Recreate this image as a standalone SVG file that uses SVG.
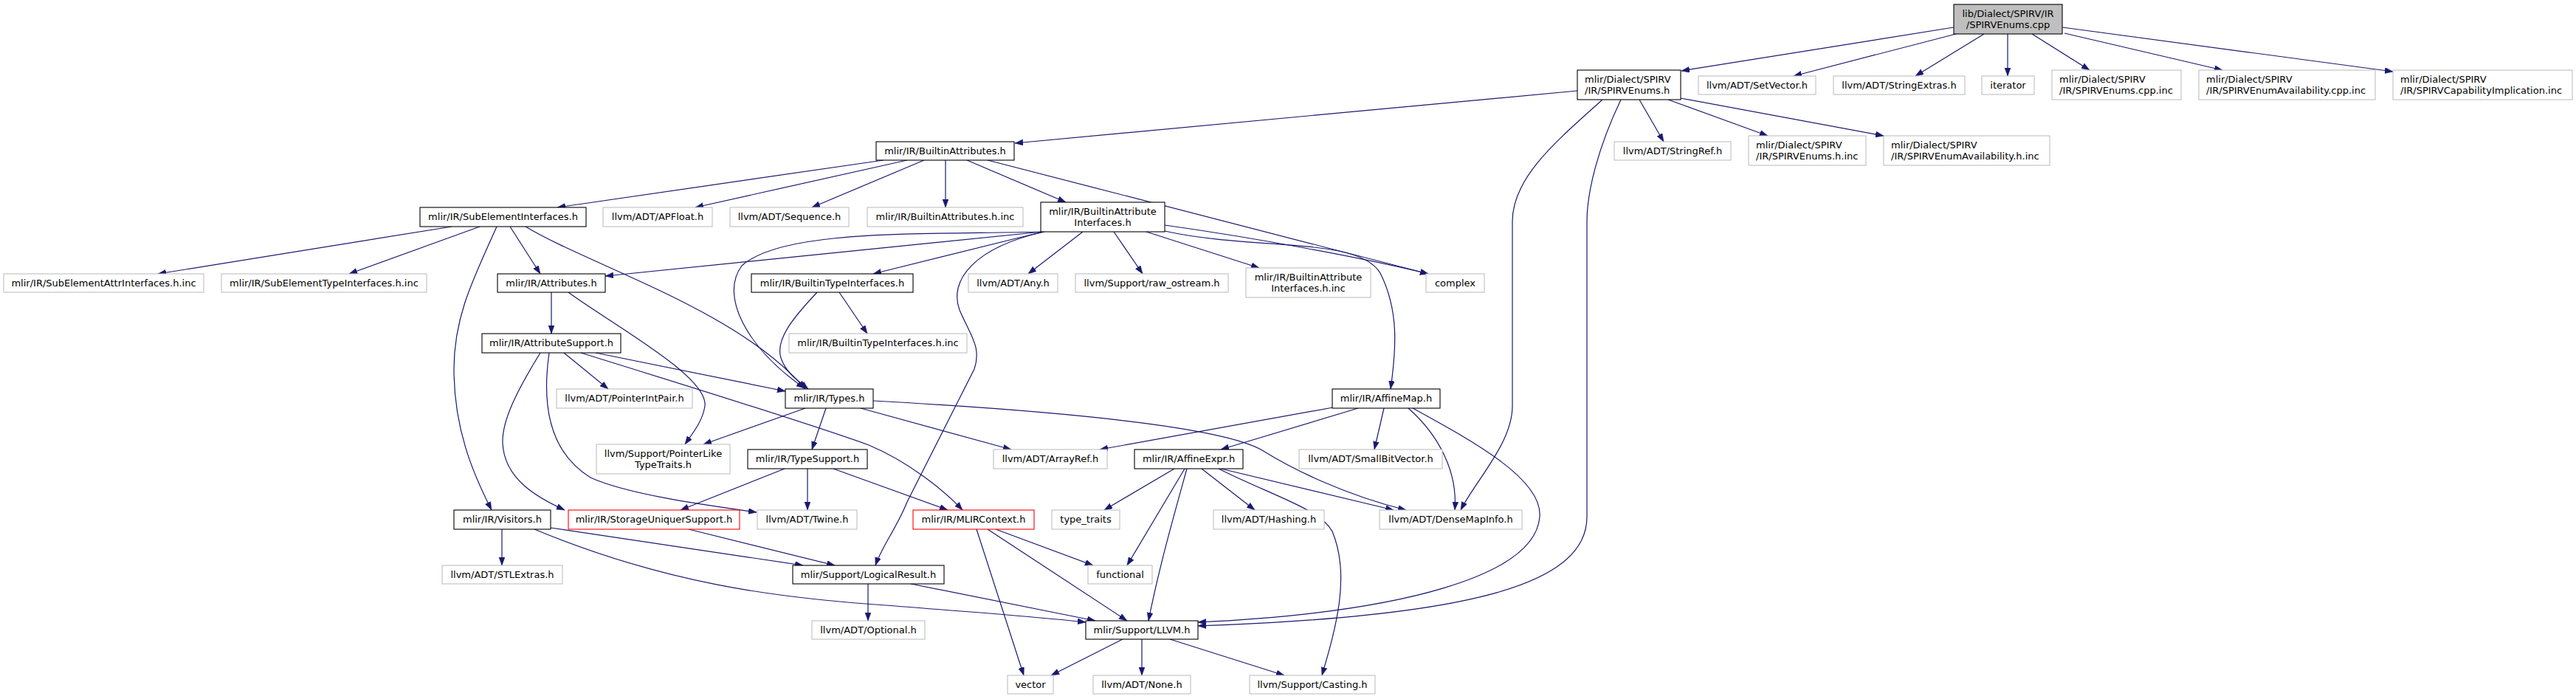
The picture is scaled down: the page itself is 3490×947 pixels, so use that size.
<svg xmlns="http://www.w3.org/2000/svg" width="3490" height="947" viewBox="0 0 3490 947">
<style>
text{font-family:"DejaVu Sans","Liberation Sans",sans-serif;font-size:13px;fill:#000}
.c{text-anchor:middle}
rect{stroke-width:1.1}
.doc rect{fill:#fff;stroke:#000}
.ext rect{fill:#fff;stroke:#bfbfbf}
.red rect{fill:#fff;stroke:#ff0000}
.root rect{fill:#bfbfbf;stroke:#000}
#edges path{fill:none;stroke:#191970;stroke-width:1.2;marker-end:url(#a)}
</style>
<defs>
<marker id="a" markerWidth="12" markerHeight="9" refX="11" refY="4" orient="auto" markerUnits="userSpaceOnUse"><path d="M0,0 L11,4 L0,8 z" fill="#191970" stroke="#191970" stroke-width="0.5"/></marker>
</defs>
<rect width="3490" height="947" fill="#fff"/>
<g id="edges">
<path d="M2647,37 L2278,96"/>
<path d="M2650,46 L2430,103"/>
<path d="M2688,46 L2595,103"/>
<path d="M2720,46 L2720,103"/>
<path d="M2753,46 L2831,95"/>
<path d="M2797,45 L3011,95"/>
<path d="M2794,37 L3242,97"/>
<path d="M2137,123 L1375,194"/>
<path d="M2221,135 L2254,192"/>
<path d="M2260,135 L2395,184"/>
<path d="M2277,133 L2552,184"/>
<path d="M2171,135 C2110,190 2049,240 2049,300 L2049,550 C2049,600 2000,650 1979,691"/>
<path d="M2196,135 C2165,200 2150,260 2150,300 L2150,700 C2150,790 2000,835 1623,848"/>
<path d="M1197,217 L755,281"/>
<path d="M1229,217 L942,281"/>
<path d="M1252,217 L1100,281"/>
<path d="M1281,217 L1281,281"/>
<path d="M1310,217 L1444,274"/>
<path d="M1338,217 L1935,371"/>
<path d="M612,307 L214,371"/>
<path d="M650,307 L473,371"/>
<path d="M673,307 C640,380 615,430 615,500 C615,580 640,640 666,691"/>
<path d="M691,307 L732,371"/>
<path d="M712,307 C800,360 1000,420 1091,527"/>
<path d="M747,396 L747,452"/>
<path d="M770,396 C830,440 960,510 955,550 C952,570 940,585 928,602"/>
<path d="M1412,314 L820,374"/>
<path d="M1413,314 C1250,318 1060,310 1005,360 C975,400 1010,470 1090,526"/>
<path d="M1413,314 L1183,371"/>
<path d="M1467,314 L1393,371"/>
<path d="M1509,314 L1548,371"/>
<path d="M1553,314 L1706,363"/>
<path d="M1578,305 C1700,322 1850,350 1935,371"/>
<path d="M1578,313 C1700,340 1840,320 1870,370 C1895,420 1892,470 1884,527"/>
<path d="M1415,314 C1320,335 1285,380 1300,420 C1315,455 1330,470 1320,500 L1229,680 C1215,715 1195,740 1186,766"/>
<path d="M1137,396 L1175,452"/>
<path d="M1107,396 C1075,430 1050,460 1058,485 C1065,505 1080,515 1095,527"/>
<path d="M807,478 L1064,530"/>
<path d="M764,478 L824,527"/>
<path d="M732,478 C700,530 680,570 681,600 C683,650 730,675 765,691"/>
<path d="M744,478 C735,540 740,610 800,647 C850,670 960,685 1025,694"/>
<path d="M787,478 C900,513 1100,575 1177,603 C1230,625 1280,665 1304,691"/>
<path d="M1091,553 L953,602"/>
<path d="M1119,553 L1100,609"/>
<path d="M1166,553 L1370,609"/>
<path d="M1183,543 C1400,555 1650,575 1710,610 C1750,635 1820,670 1905,691"/>
<path d="M1063,635 L922,691"/>
<path d="M1094,635 L1094,691"/>
<path d="M1129,635 L1284,691"/>
<path d="M1806,552 L1490,609"/>
<path d="M1840,553 L1654,609"/>
<path d="M1875,553 L1862,609"/>
<path d="M1908,553 C1950,590 1975,640 1971,691"/>
<path d="M1914,553 C2000,600 2090,650 2086,700 C2080,780 1900,830 1623,843"/>
<path d="M1591,635 L1496,691"/>
<path d="M1605,635 L1527,766"/>
<path d="M1608,635 C1590,700 1570,770 1556,841"/>
<path d="M1628,635 L1700,691"/>
<path d="M1654,635 L1888,691"/>
<path d="M1651,635 C1720,670 1790,690 1805,720 C1830,780 1810,850 1791,915"/>
<path d="M680,717 L680,766"/>
<path d="M746,715 L1088,766"/>
<path d="M724,717 C900,790 1050,810 1200,820 C1300,828 1400,835 1471,843"/>
<path d="M933,717 L1131,766"/>
<path d="M1338,717 L1527,841"/>
<path d="M1349,717 L1481,766"/>
<path d="M1323,717 L1387,915"/>
<path d="M1176,791 L1176,841"/>
<path d="M1234,791 L1484,841"/>
<path d="M1521,866 L1424,915"/>
<path d="M1547,866 L1547,915"/>
<path d="M1585,866 L1740,915"/>
</g>
<g id="n0" class="root"><rect x="2647" y="6" width="147" height="40"/><text class="c" x="2720.5" y="23">lib/Dialect/SPIRV/IR</text><text class="c" x="2720.5" y="38">/SPIRVEnums.cpp</text></g>
<g id="n1" class="doc"><rect x="2137" y="95" width="140" height="40"/><text x="2147" y="112">mlir/Dialect/SPIRV</text><text x="2147" y="127">/IR/SPIRVEnums.h</text></g>
<g id="n2" class="ext"><rect x="2301" y="103" width="159" height="25"/><text class="c" x="2380.5" y="120">llvm/ADT/SetVector.h</text></g>
<g id="n3" class="ext"><rect x="2484" y="103" width="178" height="25"/><text class="c" x="2573" y="120">llvm/ADT/StringExtras.h</text></g>
<g id="n4" class="ext"><rect x="2685" y="103" width="71" height="25"/><text class="c" x="2720.5" y="120">iterator</text></g>
<g id="n5" class="ext"><rect x="2780" y="95" width="175" height="40"/><text x="2790" y="112">mlir/Dialect/SPIRV</text><text x="2790" y="127">/IR/SPIRVEnums.cpp.inc</text></g>
<g id="n6" class="ext"><rect x="2979" y="95" width="239" height="40"/><text x="2989" y="112">mlir/Dialect/SPIRV</text><text x="2989" y="127">/IR/SPIRVEnumAvailability.cpp.inc</text></g>
<g id="n7" class="ext"><rect x="3242" y="95" width="243" height="40"/><text x="3252" y="112">mlir/Dialect/SPIRV</text><text x="3252" y="127">/IR/SPIRVCapabilityImplication.inc</text></g>
<g id="n8" class="doc"><rect x="1187" y="192" width="187" height="25"/><text class="c" x="1280.5" y="209">mlir/IR/BuiltinAttributes.h</text></g>
<g id="n9" class="ext"><rect x="2187" y="192" width="158" height="25"/><text class="c" x="2266" y="209">llvm/ADT/StringRef.h</text></g>
<g id="n10" class="ext"><rect x="2369" y="184" width="159" height="40"/><text x="2379" y="201">mlir/Dialect/SPIRV</text><text x="2379" y="216">/IR/SPIRVEnums.h.inc</text></g>
<g id="n11" class="ext"><rect x="2552" y="184" width="225" height="40"/><text x="2562" y="201">mlir/Dialect/SPIRV</text><text x="2562" y="216">/IR/SPIRVEnumAvailability.h.inc</text></g>
<g id="n12" class="doc"><rect x="569" y="281" width="225" height="26"/><text class="c" x="681.5" y="298">mlir/IR/SubElementInterfaces.h</text></g>
<g id="n13" class="ext"><rect x="817" y="281" width="148" height="26"/><text class="c" x="891" y="298">llvm/ADT/APFloat.h</text></g>
<g id="n14" class="ext"><rect x="989" y="281" width="161" height="26"/><text class="c" x="1069.5" y="298">llvm/ADT/Sequence.h</text></g>
<g id="n15" class="ext"><rect x="1175" y="281" width="211" height="26"/><text class="c" x="1280.5" y="298">mlir/IR/BuiltinAttributes.h.inc</text></g>
<g id="n16" class="doc"><rect x="1410" y="274" width="168" height="40"/><text class="c" x="1494" y="291">mlir/IR/BuiltinAttribute</text><text class="c" x="1494" y="306">Interfaces.h</text></g>
<g id="n17" class="ext"><rect x="5" y="371" width="271" height="25"/><text class="c" x="140.5" y="388">mlir/IR/SubElementAttrInterfaces.h.inc</text></g>
<g id="n18" class="ext"><rect x="300" y="371" width="278" height="25"/><text class="c" x="439" y="388">mlir/IR/SubElementTypeInterfaces.h.inc</text></g>
<g id="n19" class="doc"><rect x="674" y="371" width="146" height="25"/><text class="c" x="747" y="388">mlir/IR/Attributes.h</text></g>
<g id="n20" class="doc"><rect x="1018" y="371" width="219" height="25"/><text class="c" x="1127.5" y="388">mlir/IR/BuiltinTypeInterfaces.h</text></g>
<g id="n21" class="ext"><rect x="1312" y="371" width="121" height="25"/><text class="c" x="1372.5" y="388">llvm/ADT/Any.h</text></g>
<g id="n22" class="ext"><rect x="1457" y="371" width="207" height="25"/><text class="c" x="1560.5" y="388">llvm/Support/raw_ostream.h</text></g>
<g id="n23" class="ext"><rect x="1688" y="363" width="169" height="40"/><text class="c" x="1772.5" y="380">mlir/IR/BuiltinAttribute</text><text class="c" x="1772.5" y="395">Interfaces.h.inc</text></g>
<g id="n24" class="ext"><rect x="1932" y="371" width="79" height="25"/><text class="c" x="1971.5" y="388">complex</text></g>
<g id="n25" class="doc"><rect x="653" y="452" width="188" height="26"/><text class="c" x="747" y="469">mlir/IR/AttributeSupport.h</text></g>
<g id="n26" class="ext"><rect x="1069" y="452" width="241" height="26"/><text class="c" x="1189.5" y="469">mlir/IR/BuiltinTypeInterfaces.h.inc</text></g>
<g id="n27" class="ext"><rect x="754" y="527" width="184" height="26"/><text class="c" x="846" y="544">llvm/ADT/PointerIntPair.h</text></g>
<g id="n28" class="doc"><rect x="1064" y="527" width="119" height="26"/><text class="c" x="1123.5" y="544">mlir/IR/Types.h</text></g>
<g id="n29" class="doc"><rect x="1805" y="527" width="146" height="26"/><text class="c" x="1878" y="544">mlir/IR/AffineMap.h</text></g>
<g id="n30" class="ext"><rect x="808" y="602" width="181" height="40"/><text class="c" x="898.5" y="619">llvm/Support/PointerLike</text><text class="c" x="898.5" y="634">TypeTraits.h</text></g>
<g id="n31" class="doc"><rect x="1013" y="609" width="162" height="26"/><text class="c" x="1094" y="626">mlir/IR/TypeSupport.h</text></g>
<g id="n32" class="ext"><rect x="1346" y="609" width="154" height="26"/><text class="c" x="1423" y="626">llvm/ADT/ArrayRef.h</text></g>
<g id="n33" class="doc"><rect x="1537" y="609" width="147" height="26"/><text class="c" x="1610.5" y="626">mlir/IR/AffineExpr.h</text></g>
<g id="n34" class="ext"><rect x="1760" y="609" width="194" height="26"/><text class="c" x="1857" y="626">llvm/ADT/SmallBitVector.h</text></g>
<g id="n35" class="doc"><rect x="615" y="691" width="131" height="26"/><text class="c" x="680.5" y="708">mlir/IR/Visitors.h</text></g>
<g id="n36" class="red"><rect x="770" y="691" width="232" height="26"/><text class="c" x="886" y="708">mlir/IR/StorageUniquerSupport.h</text></g>
<g id="n37" class="ext"><rect x="1026" y="691" width="135" height="26"/><text class="c" x="1093.5" y="708">llvm/ADT/Twine.h</text></g>
<g id="n38" class="red"><rect x="1237" y="691" width="164" height="26"/><text class="c" x="1319" y="708">mlir/IR/MLIRContext.h</text></g>
<g id="n39" class="ext"><rect x="1425" y="691" width="92" height="26"/><text class="c" x="1471" y="708">type_traits</text></g>
<g id="n40" class="ext"><rect x="1644" y="691" width="150" height="26"/><text class="c" x="1719" y="708">llvm/ADT/Hashing.h</text></g>
<g id="n41" class="ext"><rect x="1869" y="691" width="193" height="26"/><text class="c" x="1965.5" y="708">llvm/ADT/DenseMapInfo.h</text></g>
<g id="n42" class="ext"><rect x="599" y="766" width="163" height="25"/><text class="c" x="680.5" y="783">llvm/ADT/STLExtras.h</text></g>
<g id="n43" class="doc"><rect x="1074" y="766" width="205" height="25"/><text class="c" x="1176.5" y="783">mlir/Support/LogicalResult.h</text></g>
<g id="n44" class="ext"><rect x="1474" y="766" width="87" height="25"/><text class="c" x="1517.5" y="783">functional</text></g>
<g id="n45" class="ext"><rect x="1100" y="841" width="153" height="25"/><text class="c" x="1176.5" y="858">llvm/ADT/Optional.h</text></g>
<g id="n46" class="doc"><rect x="1471" y="841" width="152" height="25"/><text class="c" x="1547" y="858">mlir/Support/LLVM.h</text></g>
<g id="n47" class="ext"><rect x="1365" y="915" width="62" height="25"/><text class="c" x="1396" y="932">vector</text></g>
<g id="n48" class="ext"><rect x="1481" y="915" width="132" height="25"/><text class="c" x="1547" y="932">llvm/ADT/None.h</text></g>
<g id="n49" class="ext"><rect x="1693" y="915" width="170" height="25"/><text class="c" x="1778" y="932">llvm/Support/Casting.h</text></g>
</svg>
